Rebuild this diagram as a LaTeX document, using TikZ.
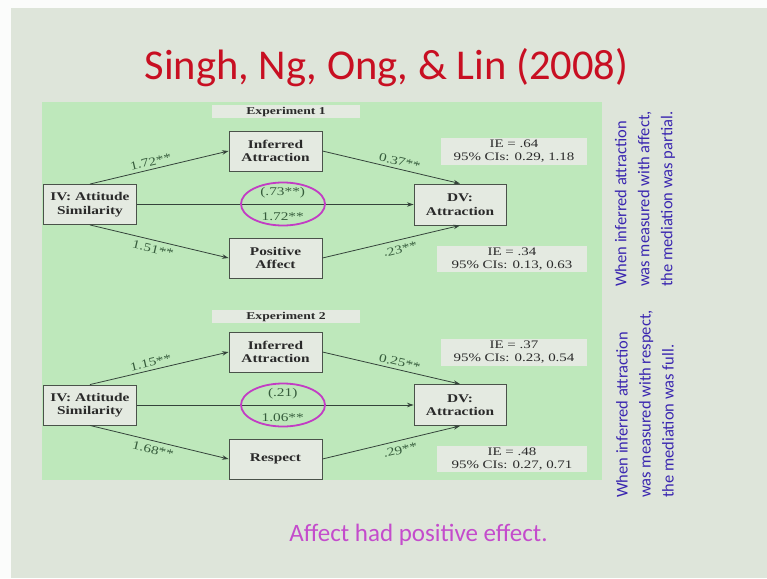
\documentclass[tikz,border=0pt]{standalone}
\usepackage{fontspec}
\setmainfont{Liberation Serif}
\newfontfamily\slidefont{Carlito}
\newfontfamily\diagfont[FakeStretch=1.3]{Liberation Serif}
\usetikzlibrary{arrows.meta,shapes.geometric}

\definecolor{pagewhite}{HTML}{FBFCFB}
\definecolor{slidebg}{HTML}{DEE5DA}
\definecolor{panelgreen}{HTML}{BEE8BB}
\definecolor{boxfill}{HTML}{E4EAE1}
\definecolor{boxline}{HTML}{4A524A}
\definecolor{linkcol}{HTML}{34433A}
\definecolor{coefcol}{HTML}{365C3C}
\definecolor{titlered}{HTML}{C80F22}
\definecolor{notemagenta}{HTML}{C44CCC}
\definecolor{noteblue}{HTML}{3A26B0}
\definecolor{ringcol}{HTML}{C23CC4}
\definecolor{textdark}{HTML}{2A2A2A}

\tikzset{
  varbox/.style={draw=boxline, fill=boxfill, line width=0.9pt,
    minimum width=93pt, minimum height=40pt, inner sep=0pt, align=center,
    text=textdark, font=\diagfont\bfseries\fontsize{11.8}{13.5}\selectfont},
  iebox/.style={fill=boxfill, minimum width=146pt, minimum height=27pt,
    inner sep=0pt, align=center, text=textdark,
    font=\diagfont\fontsize{11.5}{13}\selectfont},
  explabel/.style={fill=boxfill, minimum width=148pt, minimum height=13pt,
    inner sep=0pt, text=textdark,
    font=\diagfont\bfseries\fontsize{10.5}{12}\selectfont},
  link/.style={draw=linkcol, line width=0.8pt,
    -{Stealth[length=6.5pt,width=4.5pt]}},
  coef/.style={font=\diagfont\fontsize{11.8}{13}\selectfont, text=coefcol,
    sloped, inner sep=3pt},
  ring/.style={draw=ringcol, line width=1.8pt, ellipse,
    minimum width=84pt, minimum height=43pt, inner sep=0pt},
  sidenote/.style={rotate=90, anchor=west, align=left, text=noteblue,
    inner sep=0pt, font=\slidefont\fontsize{16.5}{23}\selectfont}
}

\begin{document}
\begin{tikzpicture}[x=1pt, y=-1pt]
  % page and slide background
  \fill[pagewhite] (0,0) rectangle (767,578);
  \fill[slidebg] (11,8) rectangle (767,578);
  \useasboundingbox (0,0) rectangle (767,578);

  % title
  \node[anchor=base, text=titlered, inner sep=0pt,
        font=\slidefont\fontsize{42.5}{48}\selectfont] (title) at (386.5,79)
        {Singh, Ng, Ong, \& Lin (2008)};

  % green panel holding both path models
  \fill[panelgreen] (42,102) rectangle (602,480);

  % ---------- Experiment 1 ----------
  \node[explabel] (exp1) at (286,111.5) {Experiment 1};
  \node[varbox] (iv1)  at (90,204.5)   {IV: Attitude\\Similarity};
  \node[varbox] (inf1) at (275.5,151)  {Inferred\\Attraction};
  \node[varbox] (aff1) at (275.5,258)  {Positive\\Affect};
  \node[varbox, minimum width=92pt, minimum height=41pt] (dv1) at (460,204.5) {DV:\\Attraction};
  \node[iebox] (ie1a) at (514,151.5) {IE = .64\\95\% CIs: 0.29, 1.18};
  \node[iebox, minimum width=150pt, minimum height=26pt] (ie1b) at (512,259) {IE = .34\\95\% CIs: 0.13, 0.63};

  \draw[link] (iv1.north) -- node[coef, above, pos=0.45] {1.72**} (inf1.west);
  \draw[link] (iv1.south) -- node[coef, below, pos=0.47, inner sep=4.5pt] {1.51**} (aff1.west);
  \draw[link] (iv1.east) -- node[coef, above, pos=0.527, yshift=3pt] {(.73**)}
                            node[coef, below, pos=0.527, yshift=-5pt] {1.72**} (dv1.west);
  \draw[link] (inf1.east) -- node[coef, above, pos=0.55] {0.37**} (dv1.north);
  \draw[link] (aff1.east) -- node[coef, below, pos=0.55, inner sep=5pt] {.23**} (dv1.south);
  \node[ring] (ring1) at (283,204) {};

  % ---------- Experiment 2 ----------
  \node[explabel] (exp2) at (286,316.5) {Experiment 2};
  \node[varbox] (iv2)  at (90,405)    {IV: Attitude\\Similarity};
  \node[varbox] (inf2) at (275.5,352) {Inferred\\Attraction};
  \node[varbox] (resp2) at (275.5,459) {Respect};
  \node[varbox, minimum width=92pt, minimum height=41pt] (dv2) at (460,405) {DV:\\Attraction};
  \node[iebox] (ie2a) at (514,352.5) {IE = .37\\95\% CIs: 0.23, 0.54};
  \node[iebox, minimum width=150pt, minimum height=26pt] (ie2b) at (512,459) {IE = .48\\95\% CIs: 0.27, 0.71};

  \draw[link] (iv2.north) -- node[coef, above, pos=0.45] {1.15**} (inf2.west);
  \draw[link] (iv2.south) -- node[coef, below, pos=0.47, inner sep=4.5pt] {1.68**} (resp2.west);
  \draw[link] (iv2.east) -- node[coef, above, pos=0.527, yshift=3pt] {(.21)}
                            node[coef, below, pos=0.527, yshift=-5pt] {1.06**} (dv2.west);
  \draw[link] (inf2.east) -- node[coef, above, pos=0.55] {0.25**} (dv2.north);
  \draw[link] (resp2.east) -- node[coef, below, pos=0.55, inner sep=5pt] {.29**} (dv2.south);
  \node[ring] (ring2) at (283,405) {};

  % side notes, set vertically
  \node[sidenote] (note1) at (645,287)
    {When inferred attraction\\was measured with affect,\\the mediation was partial.};
  \node[sidenote] (note2) at (645,498)
    {When inferred attraction\\was measured with respect,\\the mediation was full.};

  % closing remark
  \node[anchor=base, text=notemagenta, inner sep=0pt,
        font=\slidefont\fontsize{25}{30}\selectfont] (remark) at (418.5,541)
        {Affect had positive effect.};
\end{tikzpicture}
\end{document}
